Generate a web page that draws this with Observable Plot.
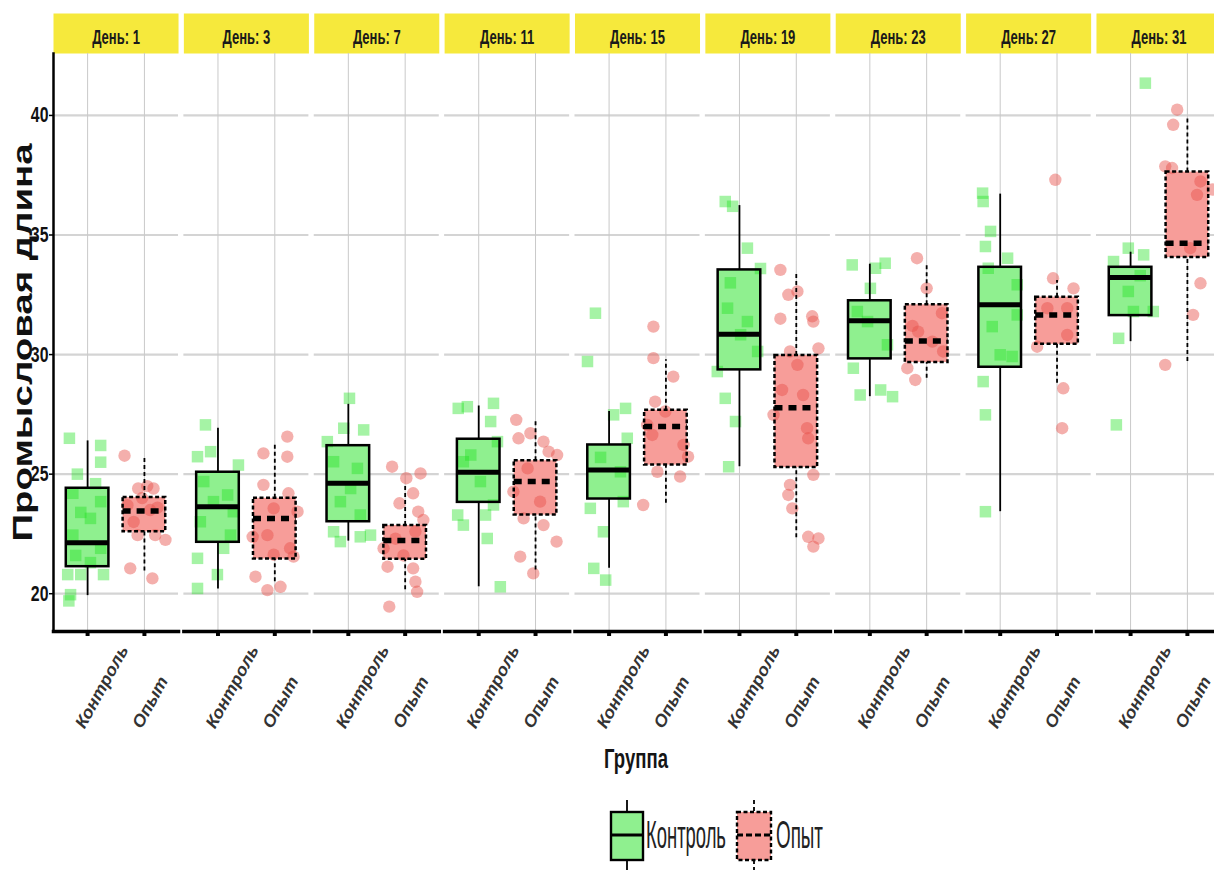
<!DOCTYPE html>
<html><head><meta charset="utf-8">
<script src="https://cdn.jsdelivr.net/npm/d3@7"></script>
<script src="https://cdn.jsdelivr.net/npm/@observablehq/plot@0.6"></script>
<style>
html,body{margin:0;padding:0;background:#fff;overflow:hidden;}
#wrap{position:relative;width:1221px;height:870px;font-family:"Liberation Sans",Arial,sans-serif;}
#overlay{position:absolute;left:0;top:740px;}
</style></head><body><div id="wrap"><div id="chart"></div><svg id="overlay" width="1221" height="130"></svg></div>
<script>
const days = [1, 3, 7, 11, 15, 19, 23, 27, 31];
const groups = ["Контроль", "Опыт"];
const yTicks = [20, 25, 30, 35, 40];
const yLabel = "Промысловая длина";
const xLabel = "Группа";
const stripPrefix = "День: ";

const ctrlLow  = [19.92, 20.2, 22.2, 20.29, 21.06, 25.31, 28.24, 23.43, 30.54];
const ctrlQ1   = [21.13, 22.15, 23.01, 23.82, 23.96, 29.36, 29.82, 29.47, 31.63];
const ctrlMed  = [22.13, 23.64, 24.62, 25.08, 25.17, 30.85, 31.41, 32.08, 33.22];
const ctrlQ3   = [24.41, 25.08, 26.19, 26.46, 26.22, 33.54, 32.25, 33.65, 33.65];
const ctrlHigh = [26.39, 26.92, 27.92, 27.85, 27.62, 36.23, 33.78, 36.71, 34.28];

const expLow  = [20.95, 20.5, 20.17, 20.99, 23.78, 22.34, 29.01, 28.8, 29.71];
const expQ1   = [22.59, 21.45, 21.44, 23.29, 25.38, 25.28, 29.67, 30.43, 34.06];
const expMed  = [23.46, 23.15, 22.23, 24.69, 26.99, 27.78, 30.57, 31.66, 34.66];
const expQ3   = [24.02, 23.99, 22.85, 25.56, 27.67, 29.96, 32.08, 32.4, 37.63];
const expHigh = [25.73, 26.29, 24.55, 27.2, 29.78, 33.4, 33.75, 33.1, 39.96];

// [jitter offset, value] per day
const ctrlPoints = [
 [[-0.32,26.5],[0.23,26.2],[0.23,25.5],[-0.18,25.0],[0.14,24.6],[-0.26,24.2],[0.23,23.85],[-0.12,23.4],[0.05,23.15],[-0.26,22.45],[0.23,21.9],[-0.21,21.6],[0.05,21.3],[-0.35,20.8],[-0.12,20.8],[0.28,20.8],[-0.30,19.96],[-0.33,19.7]],
 [[-0.22,27.06],[-0.13,25.94],[-0.36,25.73],[0.36,25.38],[-0.25,24.69],[0.17,24.13],[-0.08,23.85],[0.27,23.43],[-0.31,23.01],[0.22,22.45],[0.10,21.9],[-0.36,21.48],[-0.01,20.8],[-0.36,20.22]],
 [[0.02,28.17],[-0.08,26.92],[0.27,26.85],[-0.37,26.36],[-0.26,25.52],[0.16,25.24],[0.04,24.4],[-0.14,23.85],[0.21,23.29],[-0.26,22.59],[0.39,22.45],[0.21,22.38],[-0.14,22.18]],
 [[-0.36,27.75],[-0.20,27.82],[0.26,27.96],[0.21,27.2],[0.33,26.36],[-0.14,25.8],[-0.27,25.52],[0.03,24.69],[0.26,23.71],[-0.37,23.29],[0.12,23.29],[-0.27,22.87],[0.15,22.31],[0.38,20.29]],
 [[-0.24,31.73],[-0.38,29.71],[0.29,27.75],[0.08,27.48],[0.32,26.5],[-0.15,25.7],[0.20,25.1],[0.25,23.85],[-0.33,23.57],[-0.10,22.59],[-0.27,21.06],[-0.06,20.57]],
 [[-0.25,36.4],[-0.12,36.2],[0.14,34.45],[0.37,33.6],[-0.16,33.0],[-0.21,31.94],[0.14,31.38],[0.02,30.83],[0.32,30.13],[-0.39,29.29],[-0.25,28.17],[-0.07,27.2],[-0.19,25.31]],
 [[0.27,33.82],[-0.31,33.75],[0.10,33.61],[0.01,32.77],[-0.22,31.8],[-0.04,31.38],[0.31,30.41],[-0.29,29.43],[0.19,28.52],[-0.17,28.31],[0.40,28.24]],
 [[-0.31,36.75],[-0.30,36.4],[-0.17,35.15],[-0.26,34.52],[0.13,34.03],[-0.21,33.61],[0.30,32.92],[0.30,31.66],[-0.14,31.17],[0.0,29.99],[0.21,29.92],[-0.30,28.87],[-0.26,27.48],[-0.26,23.43]],
 [[0.26,41.35],[-0.04,34.45],[0.23,34.17],[-0.30,33.89],[0.17,33.3],[-0.04,32.64],[0.40,31.8],[0.05,31.8],[-0.21,30.68],[-0.25,27.06]]
];
const expPoints = [
 [[-0.35,25.77],[0.05,24.5],[-0.11,24.4],[0.16,24.4],[-0.04,24.0],[-0.30,23.7],[0.23,23.6],[0.10,23.5],[-0.19,23.0],[-0.12,22.45],[0.19,22.45],[0.37,22.25],[-0.25,21.06],[0.14,20.64]],
 [[0.22,26.57],[-0.20,25.87],[0.22,25.73],[-0.20,24.55],[0.24,24.2],[-0.02,23.57],[0.40,23.43],[-0.13,22.45],[-0.39,22.38],[0.27,21.9],[-0.02,21.63],[0.33,21.55],[-0.34,20.71],[0.10,20.29],[-0.13,20.15]],
 [[-0.23,25.31],[0.27,25.03],[0.02,24.83],[0.14,24.2],[-0.10,23.78],[0.23,23.43],[0.32,23.08],[0.18,22.6],[-0.17,22.3],[-0.38,21.9],[-0.03,21.6],[-0.31,21.13],[0.14,21.06],[0.18,20.5],[0.21,20.08],[-0.28,19.46]],
 [[-0.34,27.27],[-0.09,26.71],[-0.30,26.5],[0.14,26.36],[0.23,25.94],[0.38,25.8],[-0.14,25.24],[-0.39,24.27],[0.08,23.85],[-0.21,23.15],[0.14,22.87],[0.37,22.18],[-0.27,21.55],[-0.04,20.85]],
 [[-0.22,31.17],[-0.22,29.85],[0.13,29.08],[-0.19,28.03],[-0.01,27.62],[-0.33,27.06],[-0.24,26.64],[0.31,26.22],[0.39,25.73],[-0.15,25.1],[0.25,24.9],[-0.40,23.71]],
 [[-0.28,33.54],[0.02,32.64],[-0.14,32.5],[0.28,31.6],[-0.28,31.5],[0.30,31.38],[0.39,30.26],[-0.11,30.13],[0.02,29.57],[-0.25,28.52],[0.12,28.31],[-0.40,27.48],[0.19,26.92],[0.21,26.5],[0.30,24.97],[-0.11,24.55],[-0.14,24.13],[-0.07,23.57],[0.21,22.38],[0.39,22.31],[0.30,21.97]],
 [[-0.17,34.03],[0.0,32.77],[0.27,31.73],[-0.25,31.2],[-0.15,30.96],[0.10,30.54],[0.29,30.13],[-0.34,29.43],[-0.20,28.94]],
 [[-0.03,37.31],[-0.07,33.19],[0.29,32.77],[-0.17,31.94],[0.18,31.94],[0.18,30.82],[-0.35,30.33],[0.11,28.59],[0.09,26.92]],
 [[-0.18,40.24],[-0.25,39.61],[-0.39,37.87],[-0.27,37.8],[0.23,37.24],[0.44,36.9],[0.17,36.68],[0.05,34.45],[0.23,32.98],[0.10,31.66],[-0.39,29.57]]
];

const ctrlFill = "#8ff08f", expFill = "#f79d99";
const ctrlDot = "#1ee01e", expDot = "#e8504a";

const ctrlBoxes = days.map((d, k) => ({day: d, idx: 1, lo: ctrlLow[k], q1: ctrlQ1[k], med: ctrlMed[k], q3: ctrlQ3[k], hi: ctrlHigh[k]}));
const expBoxes = days.map((d, k) => ({day: d, idx: 2, lo: expLow[k], q1: expQ1[k], med: expMed[k], q3: expQ3[k], hi: expHigh[k]}));
const ctrlPts = days.flatMap((d, k) => ctrlPoints[k].map(([o, v]) => ({day: d, idx: 1, off: o, val: v})));
const expPts = days.flatMap((d, k) => expPoints[k].map(([o, v]) => ({day: d, idx: 2, off: o, val: v})));
const tickRows = days.flatMap(d => groups.map((g, i) => ({day: d, idx: i + 1, name: g})));
const hw = 0.375;

const font = "Liberation Sans, Arial, sans-serif";
const plot = Plot.plot({
  width: 1221, height: 740,
  marginTop: 53, marginBottom: 109, marginLeft: 53, marginRight: 0,
  style: {fontFamily: font, background: "#fff", overflow: "visible"},
  fx: {domain: days, paddingInner: 0.041, paddingOuter: 0, round: false, axis: null, label: null},
  x: {domain: [0.4, 2.6], axis: null},
  y: {domain: [18.42, 42.59], axis: null},
  marks: [
    Plot.frame({fill: "#f6e93c", stroke: "none", insetTop: -40, insetBottom: 578}),
    Plot.gridY({ticks: yTicks, stroke: "#d4d4d4", strokeOpacity: 1, strokeWidth: 2.2}),
    Plot.gridX({ticks: [1, 2], stroke: "#c9c9c9", strokeOpacity: 1, strokeWidth: 1}),
    Plot.rect(ctrlBoxes, {fx: "day", x1: d => d.idx - hw, x2: d => d.idx + hw, y1: "q1", y2: "q3", fill: ctrlFill}),
    Plot.rect(expBoxes, {fx: "day", x1: d => d.idx - hw, x2: d => d.idx + hw, y1: "q1", y2: "q3", fill: expFill}),
    Plot.dot(ctrlPts, {fx: "day", x: d => d.idx + d.off, y: "val", symbol: "square", r: 6.5, fill: ctrlDot, fillOpacity: 0.4, stroke: "none"}),
    Plot.dot(expPts, {fx: "day", x: d => d.idx + d.off, y: "val", symbol: "circle", r: 6.2, fill: expDot, fillOpacity: 0.46, stroke: "none"}),
    Plot.ruleX(ctrlBoxes, {fx: "day", x: "idx", y1: "lo", y2: "q1", stroke: "#000", strokeWidth: 1.8}),
    Plot.ruleX(ctrlBoxes, {fx: "day", x: "idx", y1: "q3", y2: "hi", stroke: "#000", strokeWidth: 1.8}),
    Plot.ruleX(expBoxes, {fx: "day", x: "idx", y1: "lo", y2: "q1", stroke: "#000", strokeWidth: 1.8, strokeDasharray: "4,3"}),
    Plot.ruleX(expBoxes, {fx: "day", x: "idx", y1: "q3", y2: "hi", stroke: "#000", strokeWidth: 1.8, strokeDasharray: "4,3"}),
    Plot.rect(ctrlBoxes, {fx: "day", x1: d => d.idx - hw, x2: d => d.idx + hw, y1: "q1", y2: "q3", fill: "none", stroke: "#000", strokeWidth: 2.5}),
    Plot.rect(expBoxes, {fx: "day", x1: d => d.idx - hw, x2: d => d.idx + hw, y1: "q1", y2: "q3", fill: "none", stroke: "#000", strokeWidth: 2.5, strokeDasharray: "4,2.5"}),
    Plot.ruleY(ctrlBoxes, {fx: "day", x1: d => d.idx - hw, x2: d => d.idx + hw, y: "med", stroke: "#000", strokeWidth: 5}),
    Plot.ruleY(expBoxes, {fx: "day", x1: d => d.idx - hw, x2: d => d.idx + hw, y: "med", stroke: "#000", strokeWidth: 5.5, strokeDasharray: "8,6"}),
    Plot.frame({anchor: "bottom", stroke: "#000", strokeWidth: 3.5}),
    Plot.frame({anchor: "left", facetAnchor: "left", stroke: "#000", strokeWidth: 2.5}),
    Plot.axisX({ticks: [1, 2], tickSize: 5, strokeWidth: 4, tickFormat: () => "", label: null}),
    Plot.axisY({ticks: yTicks, tickSize: 4, tickPadding: 1, strokeWidth: 1.5, label: yLabel, labelAnchor: "center", labelOffset: 41, labelArrow: "none", fontSize: 22, fontWeight: "bold"}),
    Plot.text(days, {fx: d => d, text: d => stripPrefix + d, frameAnchor: "top", lineAnchor: "middle", dy: -16, fontSize: 21, fontWeight: "bold", fill: "#1a1a1a", className: "striplab"}),
    Plot.text(tickRows, {fx: "day", x: "idx", text: "name", frameAnchor: "bottom", rotate: -61, textAnchor: "start", dx: -3, dy: 98, fontSize: 17, fontWeight: "bold", fontStyle: "italic", fill: "#333", className: "ticklab"})
  ]
});
document.getElementById("chart").appendChild(plot);

const svg = d3.select(plot);
function squeeze(sel, factor) {
  sel.each(function() {
    const len = this.getComputedTextLength();
    if (len > 0) d3.select(this).attr("textLength", len * factor).attr("lengthAdjust", "spacingAndGlyphs");
  });
}
squeeze(svg.selectAll('.striplab text'), 0.62);
squeeze(svg.selectAll('.ticklab text'), 1.05);
const ytl = svg.selectAll('g[aria-label="y-axis tick label"] text').attr("font-size", 22).attr("font-weight", "bold").attr("fill", "#111");
squeeze(ytl, 0.72);
svg.selectAll('g[aria-label="y-axis label"] text').attr("font-size", 27).attr("font-weight", "bold").attr("fill", "#111")
  .attr("textLength", 398).attr("lengthAdjust", "spacingAndGlyphs");

// x title and legend (condensed via horizontal scale)
const ov = d3.select("#overlay");
function squeezedText(x, y, size, weight, target, anchor, str) {
  const t = ov.append("text").attr("x", 0).attr("y", 0).attr("font-family", font)
    .attr("font-size", size).attr("font-weight", weight).attr("fill", "#151515")
    .attr("text-anchor", anchor).text(str);
  const len = t.node().getComputedTextLength();
  t.attr("transform", `translate(${x},${y}) scale(${target / len},1)`);
  return t;
}
squeezedText(636, 28, 28, "bold", 64, "middle", xLabel);
const keys = [
  {x: 611, w: 32, fill: ctrlFill, dash: null, mdash: null, tx: 646, tl: 80, label: groups[0]},
  {x: 737, w: 34, fill: expFill, dash: "4,2.5", mdash: "6,3", tx: 776, tl: 47, label: groups[1]}
];
for (const k of keys) {
  const cx = k.x + k.w / 2;
  ov.append("line").attr("x1", cx).attr("x2", cx).attr("y1", 60).attr("y2", 72).attr("stroke", "#000").attr("stroke-width", 1.8).attr("stroke-dasharray", k.dash ? "4,3" : null);
  ov.append("line").attr("x1", cx).attr("x2", cx).attr("y1", 120).attr("y2", 132).attr("stroke", "#000").attr("stroke-width", 1.8).attr("stroke-dasharray", k.dash ? "4,3" : null);
  ov.append("rect").attr("x", k.x).attr("y", 72).attr("width", k.w).attr("height", 48).attr("fill", k.fill)
    .attr("stroke", "#000").attr("stroke-width", 2.4).attr("stroke-dasharray", k.dash);
  ov.append("line").attr("x1", k.x).attr("x2", k.x + k.w).attr("y1", 95).attr("y2", 95).attr("stroke", "#000").attr("stroke-width", 3).attr("stroke-dasharray", k.mdash);
  squeezedText(k.tx, 108, 38, "normal", k.tl, "start", k.label).attr("fill", "#222");
}
</script></body></html>
